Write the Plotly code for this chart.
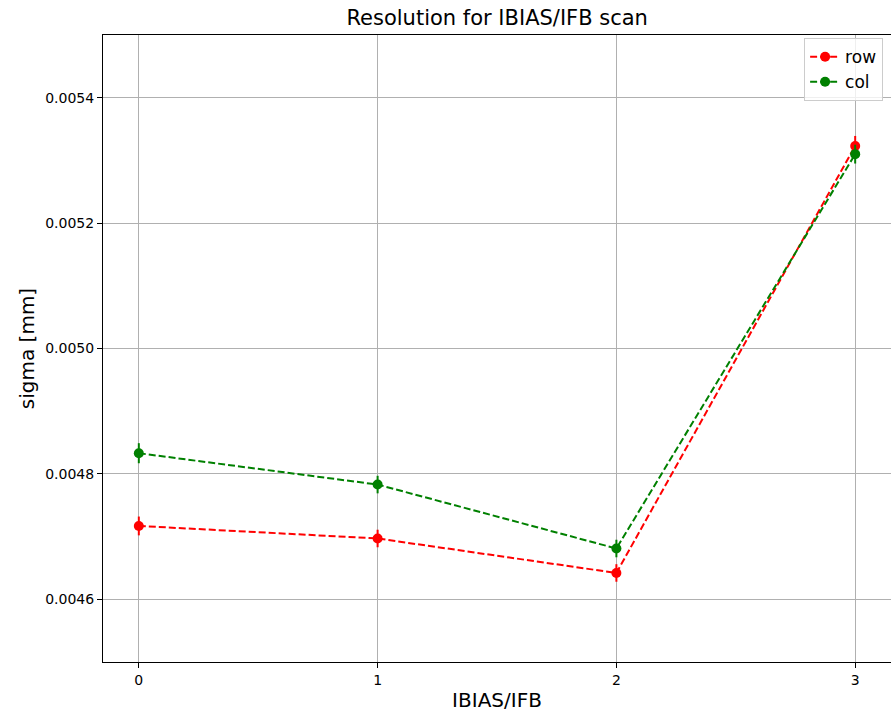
import plotly.graph_objects as go

# IBIAS/IFB scan settings and measured resolutions
settings = [0, 1, 2, 3]
row_sigma = [0.004717, 0.004697, 0.004642, 0.005323]
row_err = [0.000015, 0.000014, 0.000014, 0.000016]
col_sigma = [0.004833, 0.004783, 0.004681, 0.005310]
col_err = [0.000016, 0.000014, 0.000014, 0.000015]

y_ticks = [0.0046, 0.0048, 0.0050, 0.0052, 0.0054]
x_ticks = [0, 1, 2, 3]

FONT = "DejaVu Sans"

fig = go.Figure()
for name, vals, errs, color in [
    ("row", row_sigma, row_err, "#ff0000"),
    ("col", col_sigma, col_err, "#008000"),
]:
    fig.add_trace(go.Scatter(
        x=settings, y=vals, name=name,
        mode="lines+markers",
        line=dict(color=color, dash="7px,3px", width=2),
        marker=dict(color=color, size=10, symbol="circle"),
        error_y=dict(type="data", array=errs, visible=True,
                     color=color, thickness=2, width=0),
    ))

axis_common = dict(
    showline=True, linecolor="black", linewidth=1, mirror=True,
    showgrid=True, gridcolor="#b0b0b0", gridwidth=1,
    ticks="outside", ticklen=5, tickcolor="black",
    tickfont=dict(family=FONT, size=14, color="black"),
    zeroline=False,
)

fig.update_layout(
    width=891, height=712,
    paper_bgcolor="white", plot_bgcolor="white",
    margin=dict(l=103, r=0, t=35, b=50),
    title=dict(text="Resolution for IBIAS/IFB scan", x=0.558, xanchor="center",
               y=0.975, yanchor="middle",
               font=dict(family=FONT, size=21, color="black")),
    xaxis=dict(range=[-0.15, 3.15], tickvals=x_ticks,
               title=dict(text="IBIAS/IFB", standoff=8,
                          font=dict(family=FONT, size=20, color="black")),
               **axis_common),
    yaxis=dict(range=[0.0045, 0.0055], tickvals=y_ticks, tickformat=".4f",
               title=dict(text="sigma [mm]", standoff=5,
                          font=dict(family=FONT, size=20, color="black")),
               **axis_common),
    legend=dict(x=0.99, y=0.995, xanchor="right", yanchor="top",
                bgcolor="rgba(255,255,255,0.8)", bordercolor="#cccccc", borderwidth=1,
                font=dict(family=FONT, size=17, color="black")),
    showlegend=True,
)

fig.write_html("out.html")
